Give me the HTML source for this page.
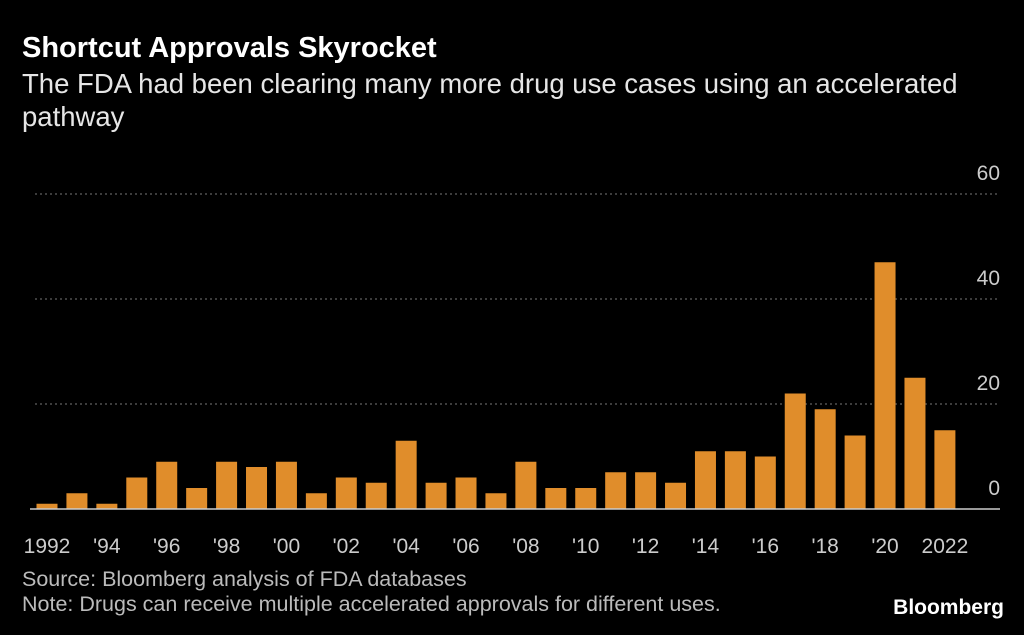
<!DOCTYPE html>
<html><head><meta charset="utf-8"><style>
body{margin:0;background:#000;width:1024px;height:635px;overflow:hidden;font-family:"Liberation Sans",sans-serif;color:#fff}
#title{position:absolute;left:22px;top:32px;font-size:29px;font-weight:bold;margin:0}
#sub{position:absolute;left:22px;top:67px;font-size:27.5px;line-height:33px;width:980px;color:#e6e6e6}
#src{position:absolute;left:22px;top:567px;font-size:21.5px;line-height:25px;color:#bbb}
#logo{position:absolute;right:20px;top:596px;font-size:21px;font-weight:bold}
svg{position:absolute;left:0;top:0}
</style></head><body>
<h1 id="title">Shortcut Approvals Skyrocket</h1>
<div id="sub">The FDA had been clearing many more drug use cases using an accelerated pathway</div>
<svg id="chart" width="1024" height="635"></svg>
<div id="src">Source: Bloomberg analysis of FDA databases<br>Note: Drugs can receive multiple accelerated approvals for different uses.</div>
<div id="logo">Bloomberg</div>
<script>
const years=[1992,1993,1994,1995,1996,1997,1998,1999,2000,2001,2002,2003,2004,2005,2006,2007,2008,2009,2010,2011,2012,2013,2014,2015,2016,2017,2018,2019,2020,2021,2022];
const approvals=[1,3,1,6,9,4,9,8,9,3,6,5,13,5,6,3,9,4,4,7,7,5,11,11,10,22,19,14,47,25,15];
const yTicks=[0,20,40,60];
const xTickLabels={1992:"1992",1994:"'94",1996:"'96",1998:"'98",2000:"'00",2002:"'02",2004:"'04",2006:"'06",2008:"'08",2010:"'10",2012:"'12",2014:"'14",2016:"'16",2018:"'18",2020:"'20",2022:"2022"};
const svg=document.getElementById('chart'),NS="http://www.w3.org/2000/svg";
const y=v=>509-v*5.25, x=yr=>47+(yr-1992)*29.93;
function mk(t,a){const e=document.createElementNS(NS,t);for(const k in a)e.setAttribute(k,a[k]);svg.appendChild(e);return e;}
yTicks.forEach(t=>{
 if(t>0){const g=mk('line',{x1:35,x2:1000,y1:y(t),y2:y(t),stroke:'#777','stroke-dasharray':'2,3'});
 
 }
 const l=mk('text',{x:1000,y:y(t)-14,'text-anchor':'end',fill:'#ccc','font-size':21});
 l.textContent=t;
 
 
});
years.forEach((yr,i)=>{
 const b=mk('rect',{x:x(yr)-10.5,y:y(approvals[i]),width:21,height:approvals[i]*5.25,fill:'#e08d2b'});
 
 
 if(xTickLabels[yr]){
  const t=mk('text',{x:x(yr),y:553,'text-anchor':'middle',fill:'#ccc','font-size':21});
  t.textContent=xTickLabels[yr];
  
  
 }
});
const ax=mk('line',{x1:30,x2:1000,y1:509,y2:509,stroke:'#ccc','stroke-width':1.5});


</script>
</body></html>
